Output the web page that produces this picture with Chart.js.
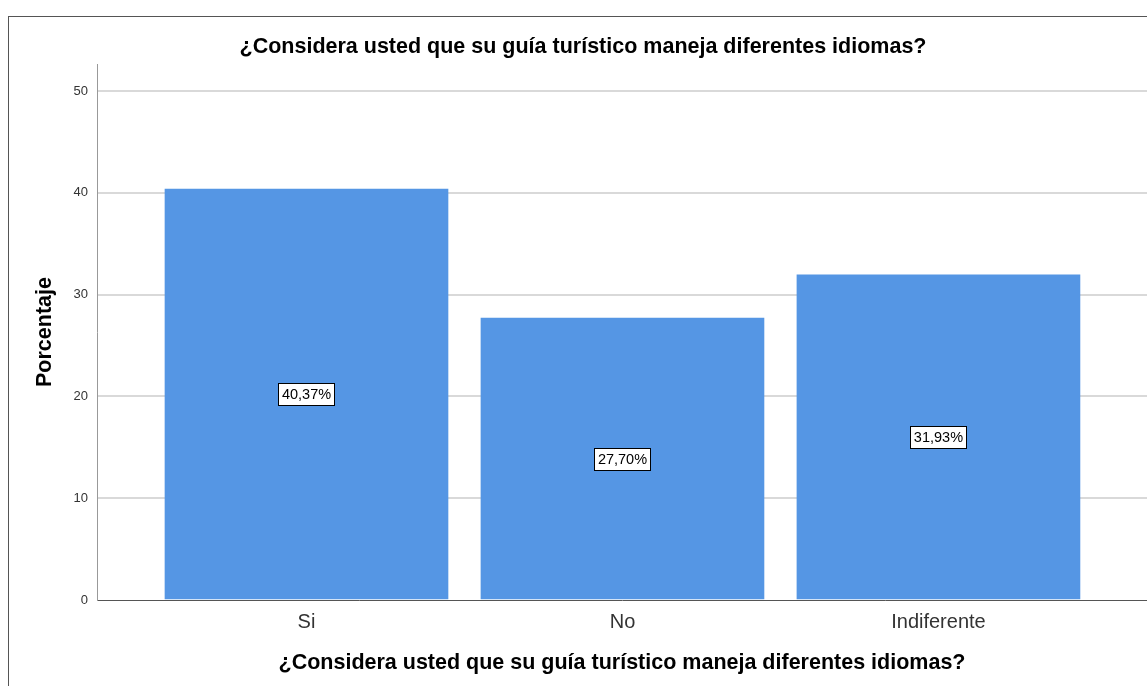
<!DOCTYPE html>
<html>
<head>
<meta charset="utf-8">
<script src="https://cdn.jsdelivr.net/npm/chart.js@4/dist/chart.umd.min.js"></script>
<style>
  html, body { margin: 0; padding: 0; background: #fff; overflow: hidden; }
  #wrap { position: relative; width: 1147px; height: 686px; overflow: hidden; }
  #frame { position: absolute; left: 8px; top: 16px; width: 1200px; height: 700px;
           border-left: 1px solid #555; border-top: 1px solid #555; box-sizing: border-box; }
  #chart { position: absolute; left: 0; top: 0; }
</style>
</head>
<body>
<div id="wrap">
  <div id="frame"></div>
  <canvas id="chart" width="1147" height="686"></canvas>
</div>
<script>
// Survey answers and their percentages
const categories = ['Si', 'No', 'Indiferente'];
const percentages = [40.37, 27.70, 31.93];
const yTicks = [0, 10, 20, 30, 40, 50];
const questionText = '¿Considera usted que su guía turístico maneja diferentes idiomas?';

const FONT = "'Liberation Sans', Arial, sans-serif";

// Boxed percentage label in the middle of each bar
const barLabels = {
  id: 'barLabels',
  afterDatasetsDraw(chart) {
    const ctx = chart.ctx;
    const meta = chart.getDatasetMeta(0);
    ctx.save();
    ctx.font = '14.5px ' + FONT;
    ctx.textAlign = 'center';
    ctx.textBaseline = 'middle';
    meta.data.forEach((bar, i) => {
      const text = percentages[i].toFixed(2).replace('.', ',') + '%';
      const cx = bar.x;
      const cy = (bar.y + bar.base) / 2;
      const w = Math.round(ctx.measureText(text).width + 7);
      const h = 22;
      const x0 = Math.round(cx - w / 2) + 0.5;
      const y0 = Math.round(cy - h / 2) + 0.5;
      ctx.fillStyle = '#fff';
      ctx.fillRect(x0, y0, w, h);
      ctx.strokeStyle = '#000';
      ctx.lineWidth = 1;
      ctx.strokeRect(x0, y0, w, h);
      ctx.fillStyle = '#000';
      ctx.fillText(text, cx, cy + 1);
    });
    ctx.restore();
  }
};

new Chart(document.getElementById('chart'), {
  type: 'bar',
  data: {
    datasets: [{
      data: categories.map((c, i) => ({ x: i, y: percentages[i] })),
      backgroundColor: '#5596e4',
      borderWidth: 0,
      barThickness: 283
    }]
  },
  options: {
    responsive: false,
    animation: false,
    layout: { padding: { left: 19, right: 0, top: 0, bottom: 0 } },
    plugins: {
      legend: { display: false },
      tooltip: { enabled: false },
      title: {
        display: true,
        text: questionText,
        color: '#000',
        font: { family: FONT, size: 21.5, weight: 'bold', lineHeight: 1.2 },
        padding: { top: 34.1, bottom: 4.1 }
      }
    },
    scales: {
      x: {
        type: 'linear',
        offset: false,
        min: -0.663,
        max: 2.66,
        afterFit(scale) { scale.height = 86; },
        afterBuildTicks(scale) {
          scale.ticks = categories.map((c, i) => ({ value: i }));
        },
        ticks: {
          includeBounds: false,
          autoSkip: false,
          maxRotation: 0,
          padding: 10,
          color: '#333',
          font: { family: FONT, size: 20 },
          callback: (v) => categories[v] ?? ''
        },
        grid: { display: false, drawTicks: false, offset: false },
        border: { display: true, color: '#555', width: 1 },
        title: {
          display: true,
          text: questionText,
          color: '#000',
          font: { family: FONT, size: 21.5, weight: 'bold', lineHeight: 1.2 },
          padding: { top: 0, bottom: 10.1 }
        }
      },
      y: {
        min: 0,
        max: 52.65,
        afterFit(scale) { scale.width = 78; },
        afterBuildTicks(scale) {
          scale.ticks = yTicks.map(v => ({ value: v }));
        },
        ticks: {
          includeBounds: false,
          padding: 9,
          color: '#333',
          font: { family: FONT, size: 13 }
        },
        grid: {
          drawTicks: false,
          color: (c) => c.tick && c.tick.value === 0 ? 'rgba(0,0,0,0)' : '#d9d9d9',
          lineWidth: 2
        },
        border: { display: true, color: '#999', width: 1 },
        title: {
          display: true,
          text: 'Porcentaje',
          color: '#000',
          font: { family: FONT, size: 21.5, weight: 'bold', lineHeight: 1.2 },
          padding: { top: 13.1, bottom: 0 }
        }
      }
    }
  },
  plugins: [barLabels]
});
</script>
</body>
</html>
